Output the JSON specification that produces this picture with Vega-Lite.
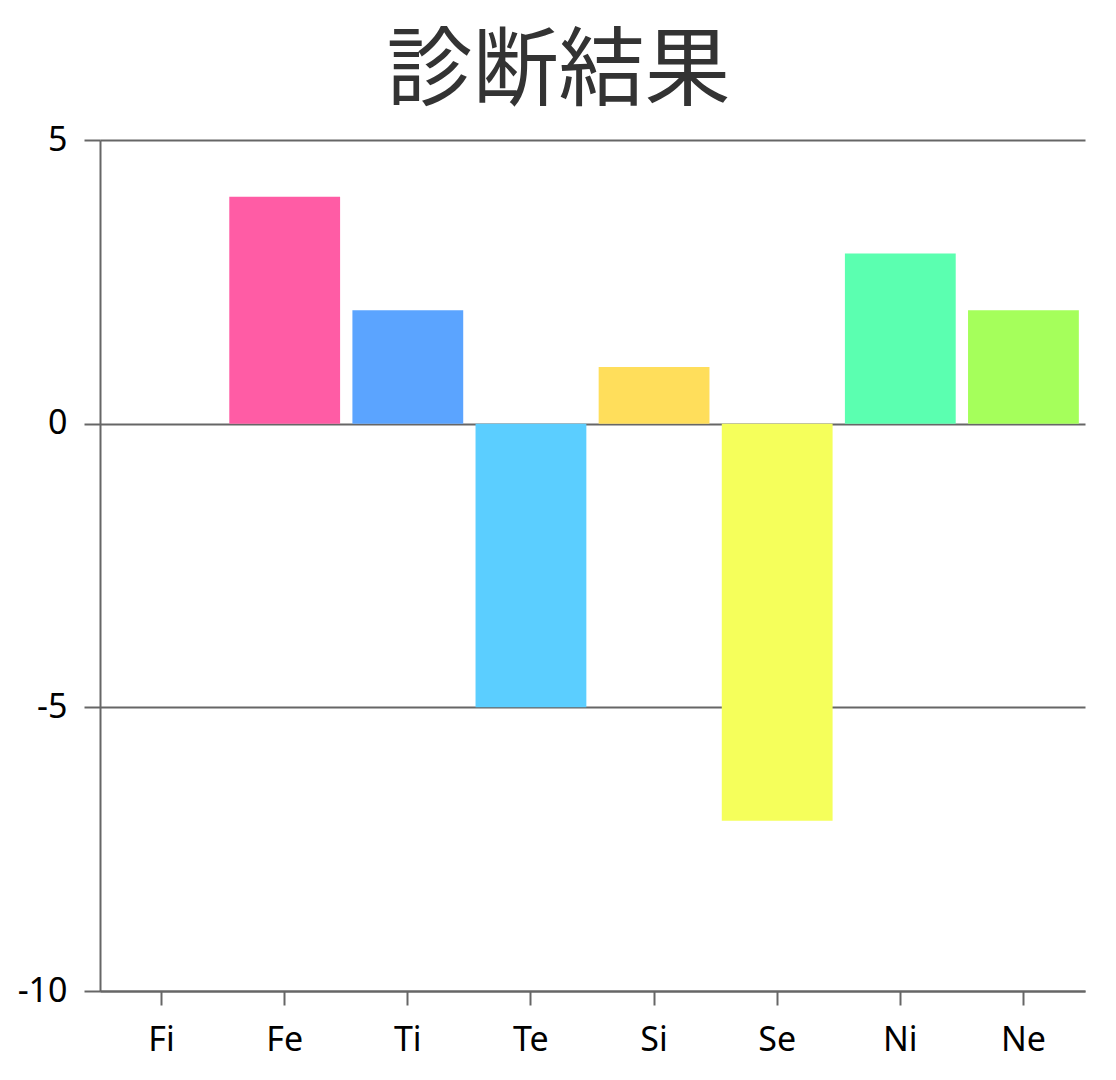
{
  "$schema": "https://vega.github.io/schema/vega-lite/v6.json",
  "autosize": {"type": "none"},
  "padding": {"left": 100, "top": 140, "right": 31, "bottom": 89},
  "width": 985,
  "height": 851,
  "background": "white",
  "title": {
    "text": "診断結果",
    "font": "Noto Sans CJK JP",
    "fontSize": 86,
    "fontWeight": "normal",
    "color": "#333333",
    "anchor": "middle",
    "dx": -34,
    "offset": 6
  },
  "data": {
    "values": [
      {"type": "Fi", "score": 0, "color": "#FF5B5B"},
      {"type": "Fe", "score": 4, "color": "#FF5CA5"},
      {"type": "Ti", "score": 2, "color": "#5BA4FF"},
      {"type": "Te", "score": -5, "color": "#5BCEFF"},
      {"type": "Si", "score": 1, "color": "#FFDE5B"},
      {"type": "Se", "score": -7, "color": "#F5FF5B"},
      {"type": "Ni", "score": 3, "color": "#5BFFB0"},
      {"type": "Ne", "score": 2, "color": "#A5FF5B"}
    ]
  },
  "mark": {"type": "bar"},
  "encoding": {
    "x": {
      "field": "type",
      "type": "nominal",
      "sort": null,
      "scale": {"paddingInner": 0.1, "paddingOuter": 0.05},
      "axis": {
        "title": null,
        "labelAngle": 0,
        "labelFont": "Noto Sans",
        "labelFontSize": 34,
        "labelColor": "#000000",
        "labelPadding": 18,
        "tickSize": 14,
        "tickWidth": 2,
        "tickColor": "#666666",
        "domainColor": "#666666",
        "domainWidth": 2,
        "grid": false
      }
    },
    "y": {
      "field": "score",
      "type": "quantitative",
      "scale": {"domain": [-10, 5], "nice": false, "zero": false},
      "axis": {
        "title": null,
        "values": [-10, -5, 0, 5],
        "labelExpr": "'' + datum.value",
        "labelFont": "Noto Sans",
        "labelFontSize": 34,
        "labelColor": "#000000",
        "labelPadding": 17,
        "tickSize": 16,
        "tickWidth": 2,
        "tickColor": "#666666",
        "domainColor": "#666666",
        "domainWidth": 2,
        "grid": true,
        "gridColor": "#666666",
        "gridWidth": 2,
        "gridOpacity": 1
      }
    },
    "y2": {"datum": 0},
    "color": {"field": "color", "type": "nominal", "scale": null, "legend": null}
  },
  "config": {"view": {"stroke": null}}
}
